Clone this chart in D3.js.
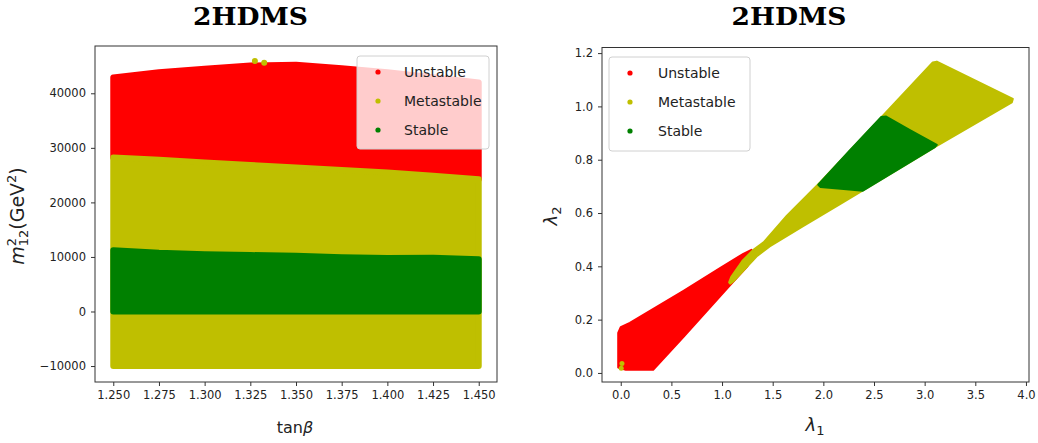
<!DOCTYPE html>
<html>
<head>
<meta charset="utf-8">
<script src="https://cdn.jsdelivr.net/npm/d3@7"></script>
<style>
body { margin: 0; background: #fff; }
text { font-family: "DejaVu Sans", sans-serif; }
</style>
</head>
<body>
<svg width="1038" height="443"></svg>
<script>
var categories = ["Unstable", "Metastable", "Stable"];
var colors = ["#ff0000", "#bfbf00", "#008000"];

// left panel: band edges along tan(beta), m12^2 in GeV^2 (dot centres)
var tanBeta      = [1.25, 1.275, 1.30, 1.325, 1.35, 1.375, 1.40, 1.425, 1.45];
var unstableTop  = [42900, 43850, 44500, 45100, 45250, 44600, 43850, 42950, 42000];
var metaTop      = [28250, 27800, 27300, 26850, 26400, 25950, 25500, 24900, 24250];
var stableTop    = [11250, 10750, 10500, 10350, 10200, 9950, 9800, 9850, 9600];
var stableBottom = [0, 0, 0, 0, 0, 0, 0, 0, 0];
var metaBottom   = [-10000, -10000, -10000, -10000, -10000, -10000, -10000, -10000, -10000];
var metaStray    = [[1.3275, 45900], [1.3326, 45600]];
var leftTicksX = [1.250, 1.275, 1.300, 1.325, 1.350, 1.375, 1.400, 1.425, 1.450];
var leftTicksY = [-10000, 0, 10000, 20000, 30000, 40000];

// right panel: outlines of the point clouds in (lambda1, lambda2)
var unstableOutline = [[-0.025, 0.02], [-0.025, 0.15], [0.0, 0.172], [0.09, 0.188], [0.62, 0.308],
    [0.98, 0.393], [1.21, 0.447], [1.29, 0.462], [1.25, 0.40], [1.08, 0.33], [0.62, 0.135],
    [0.32, 0.012], [0.05, 0.012]];
var metaOutline = [[1.07, 0.34], [1.09, 0.36], [1.20, 0.42], [1.31, 0.462], [1.41, 0.49],
    [1.64, 0.59], [1.97, 0.716], [2.59, 0.966], [3.08, 1.165], [3.12, 1.168], [3.87, 1.028],
    [3.86, 1.015], [3.12, 0.852], [2.39, 0.685], [2.16, 0.632], [1.80, 0.551], [1.47, 0.475],
    [1.34, 0.437], [1.11, 0.343], [1.08, 0.335]];
var stableOutline = [[1.95, 0.706], [2.25, 0.83], [2.57, 0.96], [2.62, 0.962], [2.85, 0.912],
    [3.12, 0.856], [3.10, 0.847], [2.39, 0.684], [2.20, 0.69], [1.97, 0.698]];
var metaSmall = [[0.005, 0.018], [0.012, 0.035]];
var rightTicksX = [0.0, 0.5, 1.0, 1.5, 2.0, 2.5, 3.0, 3.5, 4.0];
var rightTicksY = [0.0, 0.2, 0.4, 0.6, 0.8, 1.0, 1.2];

var svg = d3.select("svg");

var xL = d3.scaleLinear().domain([1.24, 1.46]).range([95, 497]);
var yL = d3.scaleLinear().domain([-12925, 48670]).range([382, 46]);
var xR = d3.scaleLinear().domain([-0.185, 4.03]).range([602, 1029]);
var yR = d3.scaleLinear().domain([-0.034, 1.221]).range([382, 47.5]);

function band(xs, top, bottom) {
    var pts = [];
    for (var i = 0; i < xs.length; i++) pts.push([xs[i], top[i]]);
    for (var j = xs.length - 1; j >= 0; j--) pts.push([xs[j], bottom[j]]);
    return pts;
}

function drawShape(pts, sx, sy, color, sw) {
    var line = d3.line().x(function(d) { return sx(d[0]); }).y(function(d) { return sy(d[1]); });
    svg.append("path")
        .attr("d", line(pts) + "Z")
        .attr("fill", color)
        .attr("stroke", color)
        .attr("stroke-width", sw)
        .attr("stroke-linejoin", "round");
}

function drawDots(pts, sx, sy, color, r) {
    svg.append("g").selectAll("circle").data(pts).enter().append("circle")
        .attr("cx", function(d) { return sx(d[0]); })
        .attr("cy", function(d) { return sy(d[1]); })
        .attr("r", r)
        .attr("fill", color);
}

function drawAxes(sx, sy, ticksX, ticksY, fmtX, fmtY) {
    var r = sx.range(), h = sy.range();
    var gx = svg.append("g").attr("transform", "translate(0," + h[0] + ")")
        .call(d3.axisBottom(sx).tickValues(ticksX).tickFormat(d3.format(fmtX)).tickSize(4).tickPadding(5));
    var gy = svg.append("g").attr("transform", "translate(" + r[0] + ",0)")
        .call(d3.axisLeft(sy).tickValues(ticksY).tickFormat(d3.format(fmtY)).tickSize(4).tickPadding(5));
    [gx, gy].forEach(function(g) {
        g.select(".domain").remove();
        g.selectAll(".tick line").attr("stroke", "#333");
        g.selectAll(".tick text").attr("fill", "#222")
            .style("font-family", "DejaVu Sans").style("font-size", "11.5px");
    });
    svg.append("rect")
        .attr("x", r[0]).attr("y", h[1])
        .attr("width", r[1] - r[0]).attr("height", h[0] - h[1])
        .attr("fill", "none").attr("stroke", "#333").attr("stroke-width", 1);
}

function drawLegend(x0, y0, w, h, mx, tx) {
    svg.append("rect")
        .attr("x", x0).attr("y", y0).attr("width", w).attr("height", h)
        .attr("rx", 3)
        .attr("fill", "#fff").attr("fill-opacity", 0.8)
        .attr("stroke", "#d0d0d0");
    for (var i = 0; i < categories.length; i++) {
        var cy = y0 + 16 + i * 29;
        svg.append("circle").attr("cx", mx).attr("cy", cy).attr("r", 2.6).attr("fill", colors[i]);
        svg.append("text").attr("x", tx).attr("y", cy + 5)
            .attr("fill", "#222").style("font-size", "14px")
            .text(categories[i]);
    }
}

// left panel
drawShape(band(tanBeta, unstableTop, metaTop), xL, yL, colors[0], 6);
drawShape(band(tanBeta, metaTop, metaBottom), xL, yL, colors[1], 6);
drawShape(band(tanBeta, stableTop, stableBottom), xL, yL, colors[2], 6);
drawDots(metaStray, xL, yL, colors[1], 3);
drawAxes(xL, yL, leftTicksX, leftTicksY, ".3f", "d");
drawLegend(357, 56, 132, 93, 378, 404);

// right panel
drawShape(unstableOutline, xR, yR, colors[0], 2);
drawShape(metaOutline, xR, yR, colors[1], 2);
drawShape(stableOutline, xR, yR, colors[2], 2);
drawDots(metaSmall, xR, yR, colors[1], 2.5);
drawAxes(xR, yR, rightTicksX, rightTicksY, ".1f", ".1f");
drawLegend(609, 57, 141, 94, 630, 658);

// titles
[[250.5, "2HDMS"], [789, "2HDMS"]].forEach(function(t) {
    svg.append("text").attr("x", t[0]).attr("y", 25)
        .attr("text-anchor", "middle")
        .attr("textLength", 115).attr("lengthAdjust", "spacingAndGlyphs")
        .style("font-family", "DejaVu Serif").style("font-weight", "bold").style("font-size", "24px")
        .text(t[1]);
});

// axis labels
var lx = svg.append("text").attr("x", 295).attr("y", 433).attr("text-anchor", "middle")
    .attr("fill", "#222").style("font-size", "16px");
lx.append("tspan").text("tan");
lx.append("tspan").style("font-style", "italic").text("\u03b2");

var ly = svg.append("text").attr("transform", "translate(24,216) rotate(-90)")
    .attr("text-anchor", "middle").attr("fill", "#222").style("font-size", "19px");
ly.append("tspan").style("font-style", "italic").text("m");
ly.append("tspan").attr("dy", -8).style("font-size", "13px").text("2");
ly.append("tspan").attr("dx", -8.3).attr("dy", 12).style("font-size", "13px").text("12");
ly.append("tspan").attr("dy", -4).text("(GeV");
ly.append("tspan").attr("dy", -8).style("font-size", "13px").text("2");
ly.append("tspan").attr("dy", 8).text(")");

var rx = svg.append("text").attr("x", 815).attr("y", 431).attr("text-anchor", "middle")
    .attr("fill", "#222").style("font-size", "18px");
rx.append("tspan").style("font-style", "italic").text("\u03bb");
rx.append("tspan").attr("dy", 4).style("font-size", "13px").text("1");

var ry = svg.append("text").attr("transform", "translate(557,216) rotate(-90)")
    .attr("text-anchor", "middle").attr("fill", "#222").style("font-size", "18px");
ry.append("tspan").style("font-style", "italic").text("\u03bb");
ry.append("tspan").attr("dy", 4).style("font-size", "13px").text("2");
</script>
</body>
</html>
